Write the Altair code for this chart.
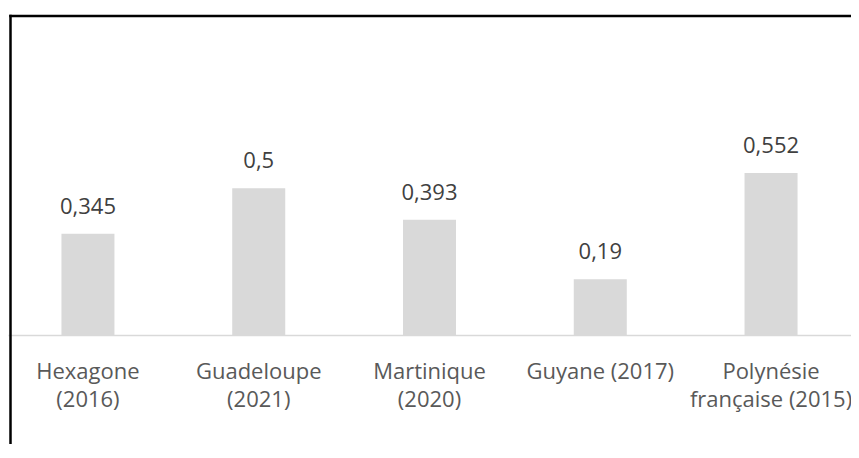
import altair as alt
import pandas as pd

categories = [
    "Hexagone\n(2016)",
    "Guadeloupe\n(2021)",
    "Martinique\n(2020)",
    "Guyane (2017)",
    "Polynésie\nfrançaise (2015)",
]
values = [0.345, 0.5, 0.393, 0.19, 0.552]

df = pd.DataFrame({"cat": categories, "val": values})
border = pd.DataFrame({"k": [0]})

x_enc = alt.X(
    "cat:N",
    sort=categories,
    title=None,
    scale=alt.Scale(paddingInner=0.6896, paddingOuter=0.313),
    axis=alt.Axis(
        labelAngle=0,
        ticks=False,
        tickSize=0,
        grid=False,
        domainColor="#d9d9d9",
        domainWidth=1.5,
        labelFont="Open Sans",
        labelFontSize=22,
        labelColor="#595959",
        labelPadding=26,
        labelLineHeight=28,
        labelLimit=400,
        labelOverlap=False,
        labelExpr="split(datum.label, '\\n')",
    ),
)
y_enc = alt.Y(
    "val:Q",
    scale=alt.Scale(domain=[0, 1.114], nice=False, zero=True),
    axis=None,
)

bars = alt.Chart(df).mark_bar(color="#d9d9d9").encode(x=x_enc, y=y_enc)

labels = (
    alt.Chart(df)
    .transform_calculate(lab="replace(toString(datum.val), '.', ',')")
    .mark_text(font="Open Sans", fontSize=22, color="#404040", dy=-20, baseline="alphabetic")
    .encode(x=x_enc, y=y_enc, text="lab:N")
)

left_border = (
    alt.Chart(border)
    .mark_rule(color="black", strokeWidth=2.5)
    .encode(x=alt.value(2.5), y=alt.value(6.75), y2=alt.value(440))
)
top_border = (
    alt.Chart(border)
    .mark_rule(color="black", strokeWidth=2.5)
    .encode(x=alt.value(1.25), x2=alt.value(850), y=alt.value(8))
)

chart = (
    alt.layer(bars, labels, left_border, top_border)
    .properties(
        width=843,
        height=327,
        autosize=alt.AutoSizeParams(type="none"),
        padding={"left": 0, "top": 0, "right": 0, "bottom": 109},
    )
    .configure_view(stroke=None)
)

chart.save("out.html", embed_options={"renderer": "svg", "actions": False})
